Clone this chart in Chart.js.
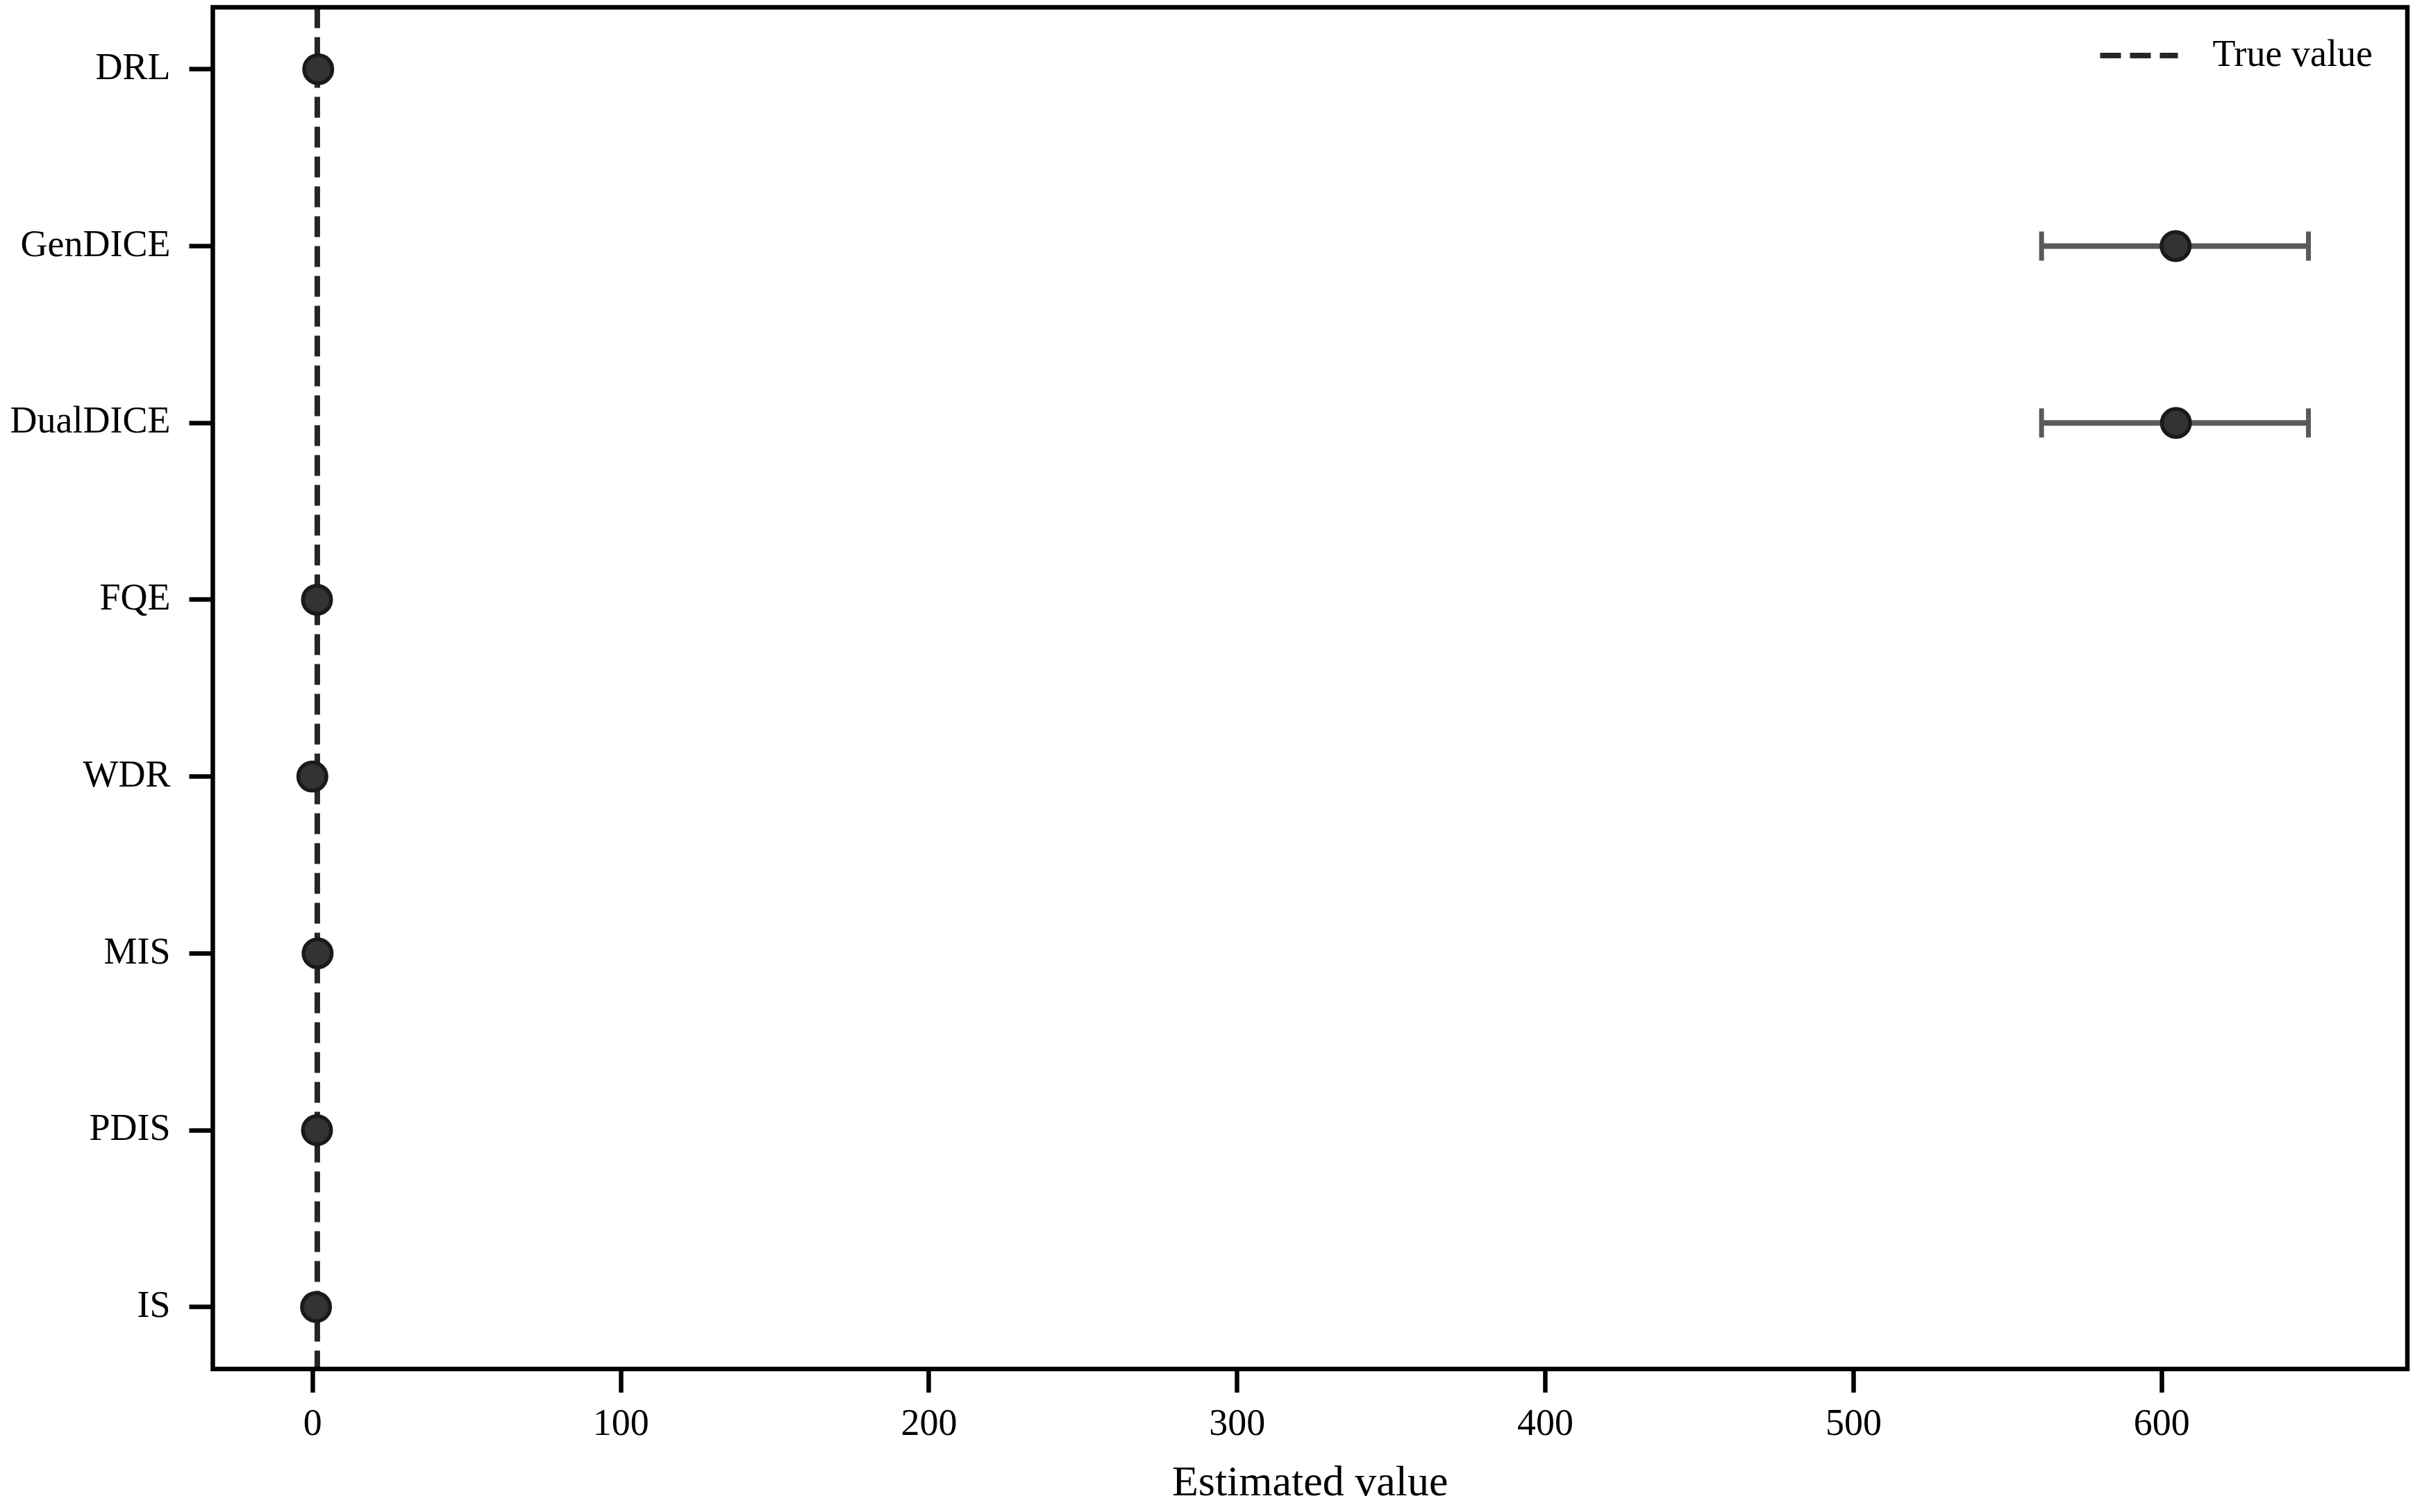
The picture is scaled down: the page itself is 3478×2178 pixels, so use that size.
<!DOCTYPE html>
<html><head><meta charset="utf-8">
<script src="https://cdn.jsdelivr.net/npm/chart.js@4.4.0/dist/chart.umd.min.js"></script>
<style>html,body{margin:0;padding:0;background:#fff;overflow:hidden}#wrap{width:3478px;height:2178px}</style>
</head><body><div id="wrap"><canvas id="c" width="3478" height="2178"></canvas></div>
<script>
// ---- data ----
const methods = ['DRL', 'GenDICE', 'DualDICE', 'FQE', 'WDR', 'MIS', 'PDIS', 'IS'];
const estimates = [1.8, 604.5, 604.6, 1.4, -0.1, 1.6, 1.4, 1.1];
const ciLow = [null, 561.0, 561.0, null, null, null, null, null];
const ciHigh = [null, 647.6, 647.6, null, null, null, null, null];
const trueValue = 1.5;
const trueLabel = 'True value';
const xTicks = [0, 100, 200, 300, 400, 500, 600];
const xTitle = 'Estimated value';
const xRange = [-32.4, 679.7];
const yRange = [-0.35, 7.35];

const FONT = '"Liberation Serif", "Times New Roman", Times, serif';

const datasets = [];
datasets.push({
  type: 'scatter', label: 'Estimates', order: 0,
  data: methods.map((m, i) => ({x: estimates[i], y: i})),
  pointRadius: 20.25, pointHoverRadius: 20.25, pointBorderWidth: 5.5,
  backgroundColor: '#333333', borderColor: '#1a1a1a', showLine: false
});
methods.forEach((m, i) => {
  if (ciLow[i] === null || ciHigh[i] === null) return;
  datasets.push({
    type: 'line', label: m + ' CI', order: 1,
    data: [{x: ciLow[i], y: i}, {x: ciHigh[i], y: i}],
    borderColor: '#5a5a5a', borderWidth: 8, fill: false,
    pointStyle: 'line', rotation: 90, pointRadius: 21, pointHoverRadius: 21,
    pointBorderWidth: 7, pointBorderColor: '#5a5a5a', pointBackgroundColor: '#5a5a5a'
  });
});
datasets.push({
  type: 'line', label: trueLabel, order: 2, isTrue: true,
  data: [{x: trueValue, y: yRange[0]}, {x: trueValue, y: yRange[1]}],
  borderColor: '#262626', borderWidth: 8, borderDash: [30, 13], pointRadius: 0, fill: false
});

const framePlugin = {
  id: 'frameAndLegend',
  afterDatasetsDraw(chart) {
    const {ctx, chartArea: a} = chart;
    ctx.save();
    ctx.strokeStyle = '#000';
    ctx.lineWidth = 6.5;
    ctx.lineJoin = 'miter';
    ctx.strokeRect(a.left, a.top, a.right - a.left, a.bottom - a.top);
    // legend
    const ds = chart.data.datasets.find(d => d.isTrue);
    ctx.font = '54px ' + FONT;
    ctx.textBaseline = 'alphabetic';
    ctx.textAlign = 'left';
    const tw = ctx.measureText(ds.label).width;
    const textRight = a.right - 50;
    const textLeft = textRight - tw;
    ctx.fillStyle = '#000';
    ctx.fillText(ds.label, textLeft, a.top + 84.5);
    const ly = a.top + 69.5;
    const lr = textLeft - 50, ll = lr - 112;
    ctx.strokeStyle = ds.borderColor;
    ctx.lineWidth = ds.borderWidth;
    ctx.setLineDash(ds.borderDash);
    ctx.lineCap = 'butt';
    ctx.beginPath(); ctx.moveTo(ll, ly); ctx.lineTo(lr, ly); ctx.stroke();
    ctx.restore();
  }
};

function noPad(s) { s.paddingTop = 0; s.paddingBottom = 0; s.paddingLeft = 0; s.paddingRight = 0; }

new Chart(document.getElementById('c'), {
  data: {datasets},
  plugins: [framePlugin],
  options: {
    responsive: false, animation: false, devicePixelRatio: 1,
    events: [],
    layout: {autoPadding: false, padding: {top: 10.5, right: 11, left: 0, bottom: 0}},
    plugins: {legend: {display: false}, tooltip: {enabled: false}},
    scales: {
      x: {
        type: 'linear', position: 'bottom', min: xRange[0], max: xRange[1],
        afterBuildTicks: s => { s.ticks = xTicks.map(v => ({value: v})); },
        afterFit: s => { s.height = 206; noPad(s); },
        grid: {display: true, drawOnChartArea: false, drawTicks: true, tickLength: 34, tickWidth: 6.5, tickColor: '#000'},
        border: {display: false},
        ticks: {color: '#000', font: {family: FONT, size: 54}, padding: 14, maxRotation: 0, callback: v => String(v)},
        title: {display: true, text: xTitle, color: '#000', font: {family: FONT, size: 62}, padding: {top: 0, bottom: 3}}
      },
      y: {
        type: 'linear', position: 'left', reverse: true, min: yRange[0], max: yRange[1],
        afterBuildTicks: s => { s.ticks = methods.map((m, i) => ({value: i})); },
        afterFit: s => { s.width = 306.5; noPad(s); },
        grid: {display: true, drawOnChartArea: false, drawTicks: true, tickLength: 34, tickWidth: 6.5, tickColor: '#000'},
        border: {display: false},
        ticks: {color: '#000', font: {family: FONT, size: 54}, padding: 27, callback: v => methods[v]}
      }
    }
  }
});
</script></body></html>
